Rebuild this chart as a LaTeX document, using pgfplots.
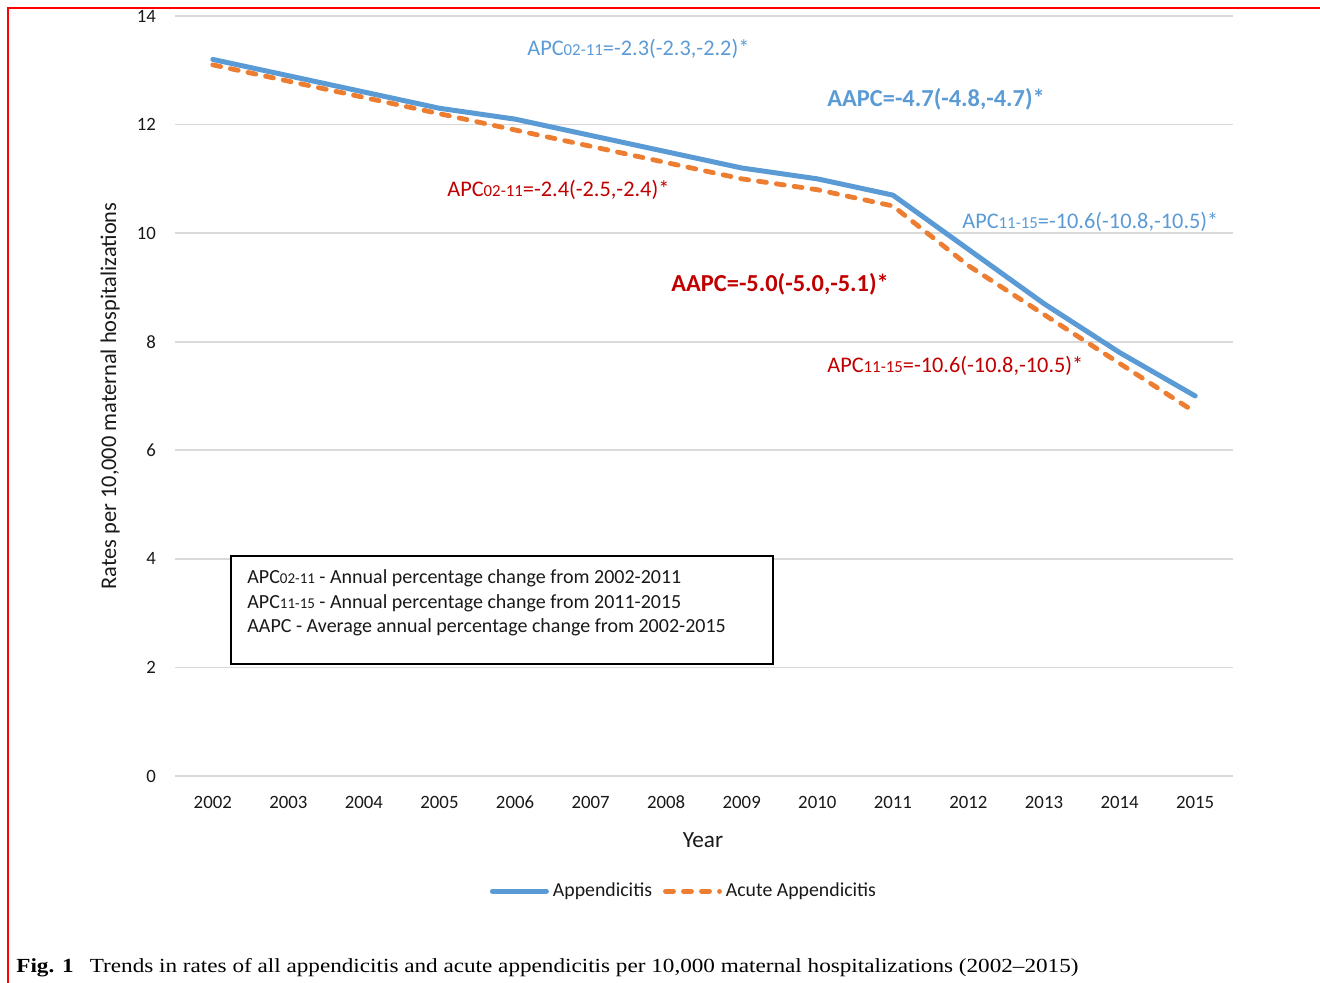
\documentclass[border=0pt]{standalone}
\usepackage{pgfplots}
\pgfplotsset{compat=1.18}
\usepackage{fontspec}
\setmainfont{Carlito}
\newfontfamily\capfont[Ligatures=TeX]{Liberation Serif}
\usepackage{graphicx}
\definecolor{cblue}{HTML}{5B9BD5}
\definecolor{corange}{HTML}{ED7D31}
\definecolor{cred}{HTML}{C00000}
\definecolor{cgrid}{HTML}{D9D9D9}
\newcommand{\sm}[2]{{\fontsize{#1}{#1}\selectfont #2}}

\pgfplotstableread{
year app acute
2002 13.2 13.1
2003 12.9 12.8
2004 12.6 12.5
2005 12.3 12.2
2006 12.1 11.9
2007 11.8 11.6
2008 11.5 11.3
2009 11.2 11.0
2010 11.0 10.8
2011 10.7 10.5
2012 9.7 9.4
2013 8.7 8.5
2014 7.8 7.6
2015 7.0 6.7
}\datatable

\begin{document}
\begin{tikzpicture}
\begin{scope}[x=0.5pt,y=-0.5pt]
\useasboundingbox (0,0) rectangle (1320,983);
\draw[red, line width=0.9pt] (8,983) -- (8,8) -- (1320,8);
\end{scope}
\begin{axis}[
  at={(87.5pt,-388pt)}, anchor=south west,
  scale only axis, width=529pt, height=380pt,
  xmin=2001.5, xmax=2015.5, ymin=0, ymax=14,
  xtick={2002,...,2015}, ytick={0,2,...,14},
  axis line style={draw=none},
  major tick length=0pt,
  ymajorgrids, grid style={cgrid, line width=0.8pt},
  /pgf/number format/assume math mode=true,
  /pgf/number format/1000 sep={},
  tick label style={font=\fontsize{9.4}{11}\selectfont, text=black!90},
  xticklabel style={yshift=-6.5pt},
  yticklabel style={xshift=-6pt},
  xlabel={Year}, ylabel={Rates per 10,000 maternal hospitalizations},
  every axis x label/.style={at={(axis description cs:0.499,-0.0842)}, anchor=center,
    font=\fontsize{11.6}{13}\selectfont, text=black!90},
  every axis y label/.style={at={(axis description cs:-0.0614,0.5)}, rotate=90, anchor=center,
    font=\fontsize{11.2}{13}\selectfont, text=black!90},
  legend columns=2,
  legend style={at={(axis description cs:0.482,-0.1515)}, anchor=center, draw=none, fill=none,
    font=\fontsize{9.9}{12}\selectfont, text=black!90,
    /tikz/every even column/.append style={column sep=3.5pt}},
  legend image code/.code={\draw[#1] (0pt,0pt) -- (27pt,0pt);},
]
\addplot[cblue, line width=2.5pt, line join=round, line cap=round] table[x=year,y=app] {\datatable};
\addlegendentry{Appendicitis}
\addplot[corange, line width=2.4pt, line join=round, line cap=round, dash pattern=on 4pt off 5pt] table[x=year,y=acute] {\datatable};
\addlegendentry{Acute Appendicitis}
\end{axis}
\begin{scope}[x=0.5pt,y=-0.5pt]
\node[anchor=base west, inner sep=0, text=cblue, font=\fontsize{11.15}{13}\selectfont] at (527,56) {APC\sm{8.4}{02-11}=-2.3(-2.3,-2.2)*};
\node[anchor=base west, inner sep=0, text=cblue, font=\fontsize{12.2}{14}\selectfont\bfseries] at (827,107) {AAPC=-4.7(-4.8,-4.7)*};
\node[anchor=base west, inner sep=0, text=cred, font=\fontsize{11.15}{13}\selectfont] at (447,197) {APC\sm{8.4}{02-11}=-2.4(-2.5,-2.4)*};
\node[anchor=base west, inner sep=0, text=cblue, font=\fontsize{11.15}{13}\selectfont] at (962,229) {APC\sm{8.4}{11-15}=-10.6(-10.8,-10.5)*};
\node[anchor=base west, inner sep=0, text=cred, font=\fontsize{12.2}{14}\selectfont\bfseries] at (671,292) {AAPC=-5.0(-5.0,-5.1)*};
\node[anchor=base west, inner sep=0, text=cred, font=\fontsize{11.15}{13}\selectfont] at (827,372) {APC\sm{8.4}{11-15}=-10.6(-10.8,-10.5)*};
\draw[black, line width=0.7pt, fill=white] (231,556) rectangle (773,664);
\begin{scope}[every node/.style={anchor=base west, inner sep=0, font=\fontsize{10}{12}\selectfont, text=black!90}]
\node at (247,583) {APC\sm{7.5}{02-11} - Annual percentage change from 2002-2011};
\node at (247,608) {APC\sm{7.5}{11-15} - Annual percentage change from 2011-2015};
\node at (247,632) {AAPC - Average annual percentage change from 2002-2015};
\end{scope}
\node[anchor=base west, inner sep=0] at (16,972) {\resizebox{531pt}{\height}{\capfont\fontsize{10}{12}\selectfont\textbf{Fig. 1}\hspace{0.7em}Trends in rates of all appendicitis and acute appendicitis per 10,000 maternal hospitalizations (2002–2015)}};
\end{scope}
\end{tikzpicture}
\end{document}
